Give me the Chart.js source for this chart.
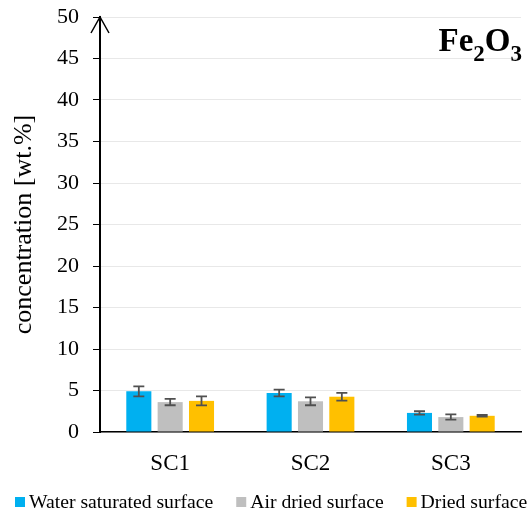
<!DOCTYPE html>
<html>
<head>
<meta charset="utf-8">
<script src="https://cdn.jsdelivr.net/npm/chart.js@4.4.1/dist/chart.umd.min.js"></script>
<style>
  html, body { margin: 0; padding: 0; background: #fff; }
  #wrap { width: 531px; height: 519px; position: relative; }
</style>
</head>
<body>
<div id="wrap"><canvas id="c" width="531" height="519"></canvas></div>
<script>
// Sample sites and measured Fe2O3 content (wt.%) with standard deviations
const categories = ['SC1', 'SC2', 'SC3'];
const seriesNames = ['Water saturated surface', 'Air dried surface', 'Dried surface'];
const waterSaturated = [4.9, 4.7, 2.3];
const airDried = [3.6, 3.7, 1.8];
const driedSurface = [3.75, 4.25, 1.95];
const waterSaturatedErr = [0.6, 0.4, 0.2];
const airDriedErr = [0.38, 0.48, 0.32];
const driedSurfaceErr = [0.55, 0.46, 0.1];
const yTicks = [0, 5, 10, 15, 20, 25, 30, 35, 40, 45, 50];

const colors = ['#00b0f0', '#bfbfbf', '#ffc000'];
const serif = '"Liberation Serif", "Times New Roman", serif';

// Draws symmetric error bars on each bar using the y scale
const errorBars = {
  id: 'errorBars',
  afterDatasetsDraw(chart) {
    const ctx = chart.ctx;
    const y = chart.scales.y;
    ctx.save();
    ctx.strokeStyle = '#505050';
    ctx.lineWidth = 1.8;
    chart.data.datasets.forEach((ds, i) => {
      const meta = chart.getDatasetMeta(i);
      meta.data.forEach((bar, j) => {
        const v = ds.data[j], e = ds.errors[j];
        const top = y.getPixelForValue(v + e);
        const bot = y.getPixelForValue(v - e);
        const x = bar.x, cap = 5.5;
        ctx.beginPath();
        ctx.moveTo(x, top); ctx.lineTo(x, bot);
        ctx.moveTo(x - cap, top); ctx.lineTo(x + cap, top);
        ctx.moveTo(x - cap, bot); ctx.lineTo(x + cap, bot);
        ctx.stroke();
      });
    });
    ctx.restore();
  }
};

// Arrow head on the value axis, the oxide label and the series key
const decorations = {
  id: 'decorations',
  afterDraw(chart) {
    const ctx = chart.ctx;
    const a = chart.chartArea;
    ctx.save();
    ctx.strokeStyle = '#000';
    ctx.lineWidth = 1.5;
    ctx.beginPath();
    ctx.moveTo(a.left - 9, a.top + 16);
    ctx.lineTo(a.left, a.top);
    ctx.lineTo(a.left + 9, a.top + 16);
    ctx.stroke();

    // Fe2O3 with subscripts, right aligned to the plot edge
    ctx.fillStyle = '#000';
    ctx.textBaseline = 'alphabetic';
    const big = 'bold 33px ' + serif, small = 'bold 23px ' + serif;
    const parts = [['Fe', big, 0], ['2', small, 10], ['O', big, 0], ['3', small, 10]];
    let w = 0;
    parts.forEach(p => { ctx.font = p[1]; w += ctx.measureText(p[0]).width; });
    let x = a.right - w + 1;
    const base = 51;
    parts.forEach(p => {
      ctx.font = p[1];
      ctx.fillText(p[0], x, base + p[2]);
      x += ctx.measureText(p[0]).width;
    });

    // Series key along the bottom edge
    ctx.font = '19.7px ' + serif;
    let lx = 15;
    chart.data.datasets.forEach(ds => {
      ctx.fillStyle = ds.backgroundColor;
      ctx.fillRect(lx, 497, 10, 10);
      ctx.fillStyle = '#000';
      ctx.fillText(ds.label, lx + 14, 508);
      lx += 14 + ctx.measureText(ds.label).width + 23;
    });
    ctx.restore();
  }
};

const datasets = [waterSaturated, airDried, driedSurface].map((d, i) => ({
  label: seriesNames[i],
  data: d,
  errors: [waterSaturatedErr, airDriedErr, driedSurfaceErr][i],
  backgroundColor: colors[i],
  borderWidth: 0,
  categoryPercentage: 0.67,
  barPercentage: 0.8
}));

new Chart(document.getElementById('c'), {
  type: 'bar',
  data: { labels: categories, datasets },
  options: {
    responsive: false,
    animation: false,
    layout: { padding: { top: 17, right: 10, left: 0, bottom: 27 } },
    plugins: {
      tooltip: { enabled: false },
      legend: { display: false }
    },
    scales: {
      x: {
        grid: { display: false },
        border: { color: '#000', width: 1.5 },
        ticks: { color: '#000', font: { family: serif, size: 23 }, padding: 10 },
        afterFit(s) { s.height = 60; s.paddingLeft = 0; s.paddingRight = 0; }
      },
      y: {
        min: 0, max: 50,
        afterBuildTicks(s) { s.ticks = yTicks.map(v => ({ value: v })); },
        grid: { color: '#e8e8e8', tickColor: '#000', tickLength: 7, lineWidth: 1 },
        border: { color: '#000', width: 2 },
        ticks: { color: '#000', font: { family: serif, size: 22 }, padding: 14 },
        title: {
          display: true, text: 'concentration [wt.%]', color: '#000',
          font: { family: serif, size: 26 }, padding: { top: 9, bottom: 6 }
        },
        afterFit(s) { s.width = 100; s.paddingTop = 0; s.paddingBottom = 0; }
      }
    }
  },
  plugins: [errorBars, decorations]
});
</script>
</body>
</html>
